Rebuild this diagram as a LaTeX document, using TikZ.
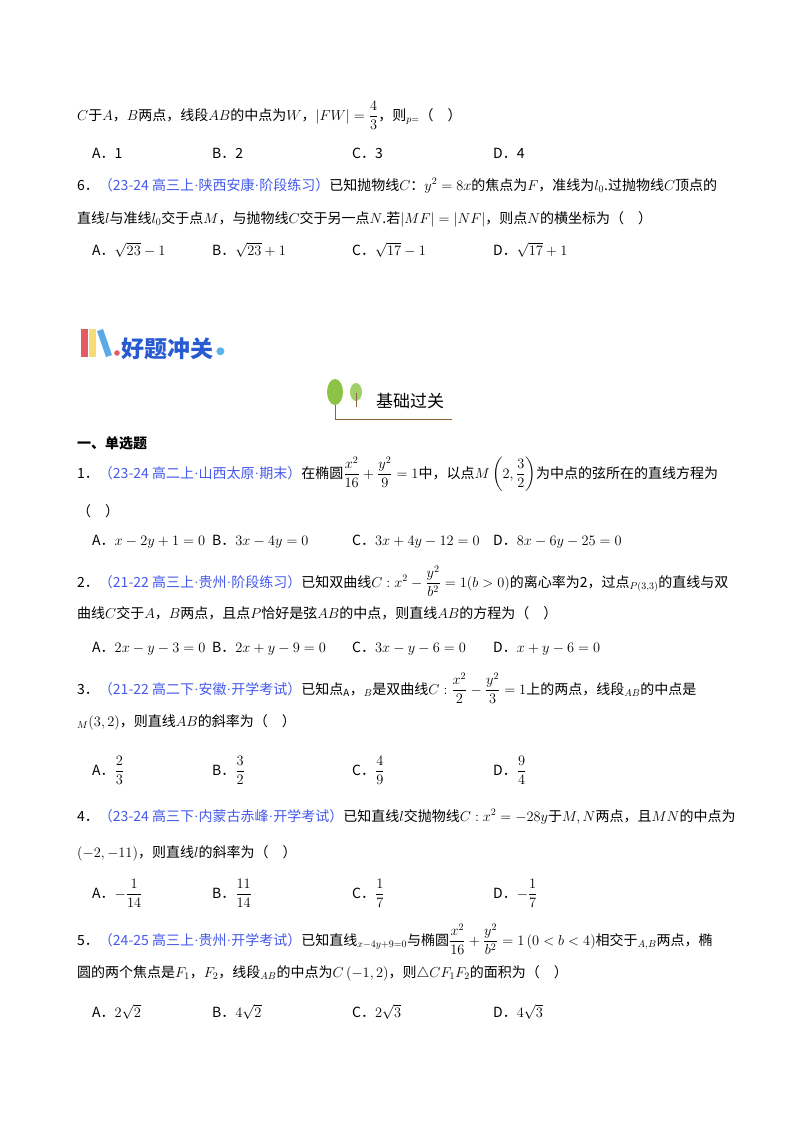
\documentclass[tikz,border=0pt]{standalone}
\usepackage{amsmath}
\usepackage{fontspec}
\setmainfont{Noto Sans CJK SC}
\newfontfamily\latinf{Liberation Serif}
\usetikzlibrary{calc}
\definecolor{srcblue}{RGB}{70,90,235}
\definecolor{hdblue}{RGB}{40,90,210}
\definecolor{dotblue}{RGB}{90,180,235}
\definecolor{bred}{RGB}{230,90,100}
\definecolor{byel}{RGB}{245,220,120}
\definecolor{bblue}{RGB}{90,170,230}
\definecolor{tgreen}{RGB}{140,195,70}
\definecolor{tbrown}{RGB}{140,100,60}
\tikzset{
  tx/.style={anchor=base west,inner sep=0pt,font=\fontsize{14}{16}\selectfont},
  op/.style={anchor=base west,inner sep=0pt,font=\fontsize{14}{16}\selectfont},
}
\newcommand{\src}[1]{\textcolor{srcblue}{#1}}
\newcommand{\md}{{\latinf\textperiodcentered}}
\begin{document}
\begin{tikzpicture}[x=1pt,y=1pt]
\useasboundingbox[fill=white] (0,0) rectangle (800,-1132);
% top
\node[tx] (l1) at (77,-120) {$C$于$A$，$B$两点，线段$AB$的中点为$W$，$|FW|=\dfrac{4}{3}$，则$_{p=}$（\quad）};
\node[op] (o1a) at (92,-158) {A．1};
\node[op] (o1b) at (212,-158) {B．2};
\node[op] (o1c) at (352,-158) {C．3};
\node[op] (o1d) at (493,-158) {D．4};
\node[tx] (q6a) at (77,-190) {6．\src{（23-24 高三上\md 陕西安康\md 阶段练习）}已知抛物线$C$：$y^2=8x$的焦点为$F$，准线为$l_0$.过抛物线$C$顶点的};
\node[tx] (q6b) at (77,-223) {直线$l$与准线$l_0$交于点$M$，与抛物线$C$交于另一点$N$.若$\left|MF\right|=\left|NF\right|$，则点$N$的横坐标为（\quad）};
\node[op] (o6a) at (92,-255) {A．$\sqrt{23}-1$};
\node[op] (o6b) at (212,-255) {B．$\sqrt{23}+1$};
\node[op] (o6c) at (352,-255) {C．$\sqrt{17}-1$};
\node[op] (o6d) at (493,-255) {D．$\sqrt{17}+1$};
% header
\fill[bred] (81,-329) rectangle (88,-357);
\fill[byel] (89,-329) rectangle (96,-357);
\fill[bblue] (97,-331) -- (103,-329) -- (112,-355) -- (106,-357) -- cycle;
\fill[bred] (117,-353) circle (2.8);
\node[anchor=base west,inner sep=0pt,font=\fontsize{23}{25}\selectfont\bfseries,text=hdblue] (hd) at (121,-357) {好题冲关};
\fill[dotblue] (hd.east) ++(7,-3) circle (4);
% trees
\draw[tbrown,line width=1pt] (335,-398) -- (335,-419) -- (452,-419);
\fill[tgreen] (335,-392) ellipse (8 and 13);
\fill[tgreen!80] (356,-392) ellipse (6 and 9);
\draw[tbrown,line width=0.8pt] (356,-393) -- (356,-407);
\node[anchor=base west,inner sep=0pt,font=\fontsize{17}{19}\selectfont] (jc) at (376,-407) {基础过关};
% section
\node[tx,font=\fontsize{14}{16}\selectfont\bfseries] (sec) at (77,-448) {一、单选题};
\node[tx] (q1) at (77,-478) {1．\src{（23-24 高二上\md 山西太原\md 期末）}在椭圆$\dfrac{x^2}{16}+\dfrac{y^2}{9}=1$中，以点$M\left(2,\dfrac{3}{2}\right)$为中点的弦所在的直线方程为};
\node[tx] (q1b) at (77,-516) {（\quad）};
\node[op] (o11) at (92,-545) {A．$x-2y+1=0$};
\node[op] (o12) at (212,-545) {B．$3x-4y=0$};
\node[op] (o13) at (352,-545) {C．$3x+4y-12=0$};
\node[op] (o14) at (493,-545) {D．$8x-6y-25=0$};
\node[tx] (q2) at (77,-587) {2．\src{（21-22 高三上\md 贵州\md 阶段练习）}已知双曲线$C:x^2-\dfrac{y^2}{b^2}=1(b>0)$的离心率为2，过点$_{P(3,3)}$的直线与双};
\node[tx] (q2b) at (77,-618) {曲线$C$交于$A$，$B$两点，且点$P$恰好是弦$AB$的中点，则直线$AB$的方程为（\quad）};
\node[op] (o21) at (92,-652) {A．$2x-y-3=0$};
\node[op] (o22) at (212,-652) {B．$2x+y-9=0$};
\node[op] (o23) at (352,-652) {C．$3x-y-6=0$};
\node[op] (o24) at (493,-652) {D．$x+y-6=0$};
\node[tx] (q3) at (77,-694) {3．\src{（21-22 高二下\md 安徽\md 开学考试）}已知点$_{\mathrm{A}}$，$_{B}$是双曲线$C:\dfrac{x^2}{2}-\dfrac{y^2}{3}=1$上的两点，线段$_{AB}$的中点是};
\node[tx] (q3b) at (77,-726) {$_{M}(3,2)$，则直线$AB$的斜率为（\quad）};
\node[op] (o31) at (92,-775) {A．$\dfrac{2}{3}$};
\node[op] (o32) at (212,-775) {B．$\dfrac{3}{2}$};
\node[op] (o33) at (352,-775) {C．$\dfrac{4}{9}$};
\node[op] (o34) at (493,-775) {D．$\dfrac{9}{4}$};
\node[tx] (q4) at (77,-821) {4．\src{（23-24 高三下\md 内蒙古赤峰\md 开学考试）}已知直线$l$交抛物线$C:x^2=-28y$于$M,N$两点，且$MN$的中点为};
\node[tx] (q4b) at (77,-857) {$\left(-2,-11\right)$，则直线$l$的斜率为（\quad）};
\node[op] (o41) at (92,-898) {A．$-\dfrac{1}{14}$};
\node[op] (o42) at (212,-898) {B．$\dfrac{11}{14}$};
\node[op] (o43) at (352,-898) {C．$\dfrac{1}{7}$};
\node[op] (o44) at (493,-898) {D．$-\dfrac{1}{7}$};
\node[tx] (q5) at (77,-945) {5．\src{（24-25 高三上\md 贵州\md 开学考试）}已知直线$_{x-4y+9=0}$与椭圆$\dfrac{x^2}{16}+\dfrac{y^2}{b^2}=1\left(0<b<4\right)$相交于$_{A,B}$两点，椭};
\node[tx] (q5b) at (77,-977) {圆的两个焦点是$F_1$，$F_2$，线段$_{AB}$的中点为$C\left(-1,2\right)$，则$\triangle CF_1F_2$的面积为（\quad）};
\node[op] (o51) at (92,-1017) {A．$2\sqrt{2}$};
\node[op] (o52) at (212,-1017) {B．$4\sqrt{2}$};
\node[op] (o53) at (352,-1017) {C．$2\sqrt{3}$};
\node[op] (o54) at (493,-1017) {D．$4\sqrt{3}$};
\end{tikzpicture}
\end{document}
